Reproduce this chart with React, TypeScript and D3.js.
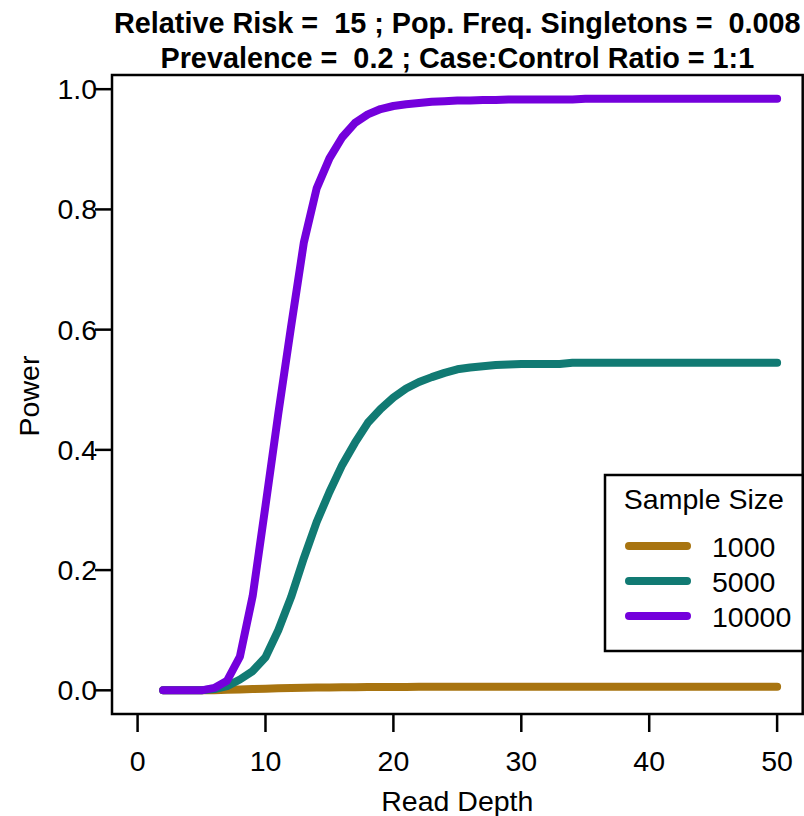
import React from "react";
import * as d3 from "d3";

const readDepth = d3.range(2, 51);
const power1000 = [0,0,0,0,0.0003,0.0008,0.0015,0.002,0.0027,0.0033,0.0038,0.0042,0.0045,0.0048,0.005,0.0052,0.0054,0.0055,0.0056,0.0057,0.0058,0.0058,0.0059,0.0059,0.006,0.006,0.006,0.006,0.006,0.006,0.006,0.006,0.006,0.006,0.006,0.006,0.006,0.006,0.006,0.006,0.006,0.006,0.006,0.006,0.006,0.006,0.006,0.006,0.006];
const power5000 = [0,0,0,0,0.002,0.007,0.018,0.032,0.055,0.1,0.155,0.22,0.28,0.33,0.375,0.412,0.445,0.468,0.487,0.502,0.513,0.521,0.528,0.534,0.537,0.539,0.541,0.542,0.543,0.543,0.543,0.543,0.545,0.545,0.545,0.545,0.545,0.545,0.545,0.545,0.545,0.545,0.545,0.545,0.545,0.545,0.545,0.545,0.545];
const power10000 = [0,0,0,0,0.004,0.016,0.056,0.157,0.307,0.46,0.605,0.745,0.835,0.885,0.92,0.944,0.958,0.967,0.972,0.975,0.977,0.979,0.98,0.981,0.981,0.982,0.982,0.983,0.983,0.983,0.983,0.983,0.983,0.984,0.984,0.984,0.984,0.984,0.984,0.984,0.984,0.984,0.984,0.984,0.984,0.984,0.984,0.984,0.984];

const seriesNames = ["1000", "5000", "10000"];
const seriesColors = ["#A87410", "#117A73", "#7400DC"];
const seriesValues = [power1000, power5000, power10000];
const xTicks = [0, 10, 20, 30, 40, 50];
const yTicks = [0, 0.2, 0.4, 0.6, 0.8, 1.0];
const titleLines = [
  "Relative Risk =  15 ; Pop. Freq. Singletons =  0.008",
  "Prevalence =  0.2 ; Case:Control Ratio = 1:1",
];

const W = 804, H = 816;
const L = 112, R = 802.7, T = 75, B = 714;
const font = "'Liberation Sans', Arial, Helvetica, sans-serif";
const FS = 28.5;

export default function App() {
  const x = d3.scaleLinear().domain([-2, 52]).range([L, R]);
  const y = d3.scaleLinear().domain([-0.0394, 1.0236]).range([B, T]);
  const line = d3.line<number>().x((_, i) => x(readDepth[i])).y((d) => y(d));
  const cx = (L + R) / 2;
  const legX = 605, legY = 475, legW = R - 605, legH = 176;
  const legRows = [546, 581, 616];
  return (
    <svg width={W} height={H} style={{ position: "absolute", left: 0, top: 0, background: "#fff" }} fontFamily={font}>
      <rect x={0} y={0} width={W} height={H} fill="#fff" />
      {titleLines.map((t, i) => (
        <text key={i} x={cx} y={33 + i * 34.5} textAnchor="middle" fontWeight="bold" fontSize={28.8} fill="#000" style={{ whiteSpace: "pre" }}>{t}</text>
      ))}
      {seriesValues.map((vals, i) => (
        <path key={i} d={line(vals) || ""} fill="none" stroke={seriesColors[i]} strokeWidth={8} strokeLinecap="round" strokeLinejoin="round" />
      ))}
      <rect x={L} y={T} width={R - L} height={B - T} fill="none" stroke="#000" strokeWidth={2.5} />
      {xTicks.map((t) => (
        <g key={t}>
          <line x1={x(t)} x2={x(t)} y1={B} y2={B + 18} stroke="#000" strokeWidth={2.5} />
          <text x={x(t)} y={771} textAnchor="middle" fontSize={FS} fill="#000">{t}</text>
        </g>
      ))}
      {yTicks.map((t) => (
        <g key={t}>
          <line x1={L} x2={L - 17} y1={y(t)} y2={y(t)} stroke="#000" strokeWidth={2.5} />
          <text x={97} y={y(t) + 10} textAnchor="end" fontSize={FS} fill="#000">{t.toFixed(1)}</text>
        </g>
      ))}
      <text x={cx} y={811} textAnchor="middle" fontSize={FS} fill="#000">Read Depth</text>
      <text transform={`translate(39,396) rotate(-90)`} textAnchor="middle" fontSize={FS} fill="#000">Power</text>
      <rect x={legX} y={legY} width={legW} height={legH} fill="#fff" stroke="#000" strokeWidth={2.5} />
      <text x={legX + legW / 2} y={509} textAnchor="middle" fontSize={FS} fill="#000">Sample Size</text>
      {seriesNames.map((n, i) => (
        <g key={n}>
          <line x1={629} x2={687} y1={legRows[i]} y2={legRows[i]} stroke={seriesColors[i]} strokeWidth={8} strokeLinecap="round" />
          <text x={712} y={legRows[i] + 10.5} fontSize={FS} fill="#000">{n}</text>
        </g>
      ))}
    </svg>
  );
}
